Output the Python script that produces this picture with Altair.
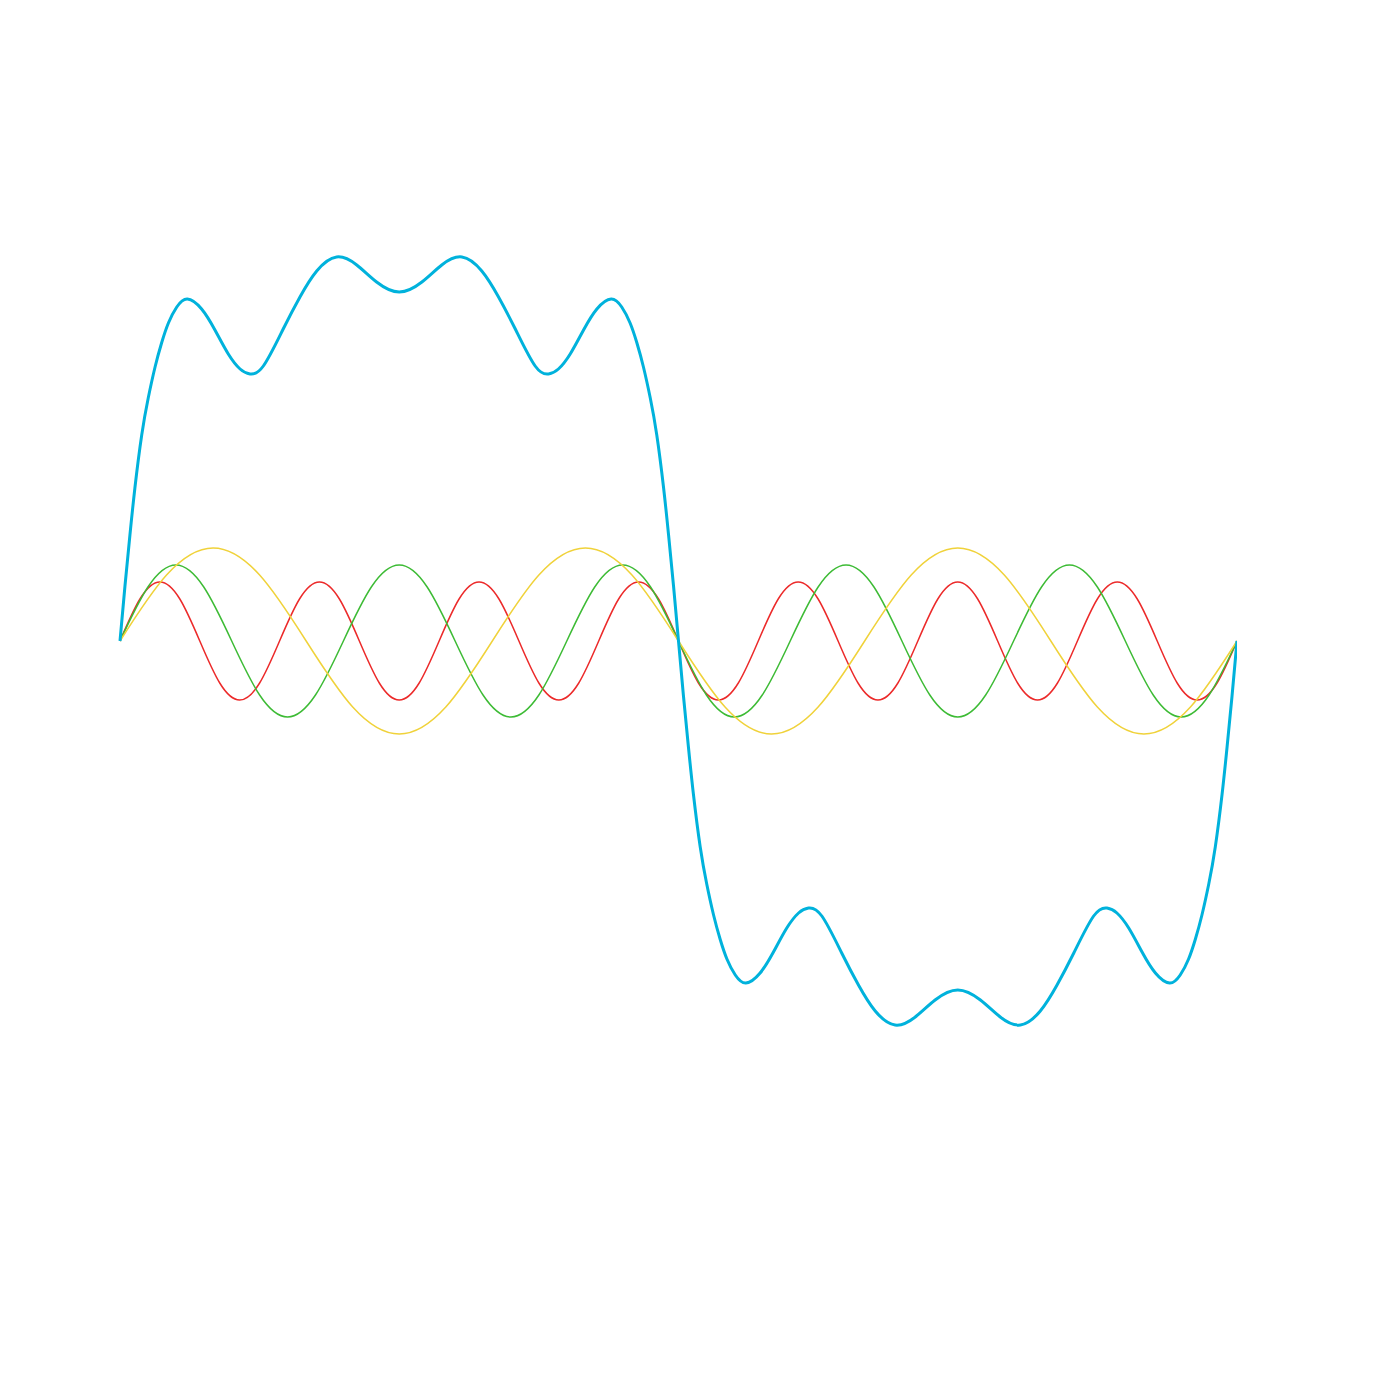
import altair as alt
import numpy as np
import pandas as pd

# Harmonic components (3rd, 5th, 7th) sampled every eighth of their period, in degrees of the fundamental
yellow_y = [0, 66, 93, 66, 0, -66, -93, -66,
            0, 66, 93, 66, 0, -66, -93, -66,
            0, 66, 93, 66, 0, -66, -93, -66, 0]
green_y = [0, 54, 76, 54, 0, -54, -76, -54,
           0, 54, 76, 54, 0, -54, -76, -54,
           0, 54, 76, 54, 0, -54, -76, -54,
           0, 54, 76, 54, 0, -54, -76, -54,
           0, 54, 76, 54, 0, -54, -76, -54, 0]
red_y = [0, 42, 59, 42, 0, -42, -59, -42,
         0, 42, 59, 42, 0, -42, -59, -42,
         0, 42, 59, 42, 0, -42, -59, -42,
         0, 42, 59, 42, 0, -42, -59, -42,
         0, 42, 59, 42, 0, -42, -59, -42,
         0, 42, 59, 42, 0, -42, -59, -42,
         0, 42, 59, 42, 0, -42, -59, -42, 0]

# Square-wave approximation (sum)
blue_x = [0, 1.6, 3.2, 4.8, 7.0, 9.1, 11.3, 13.4, 15.6, 18.3, 21.7, 26.3, 30.6, 34.9, 38.7, 41.9,
          46.2, 52.6, 58.0, 63.4, 69.8, 76.3, 82.7, 90,
          97.3, 103.7, 110.2, 116.6, 122.0, 127.4, 133.8, 138.1, 141.3, 145.1, 149.4, 153.7, 158.3,
          161.7, 164.4, 166.6, 168.7, 170.9, 173.0, 175.2, 176.8, 178.4, 180,
          181.6, 183.2, 184.8, 187.0, 189.1, 191.3, 193.4, 195.6, 198.3, 201.7, 206.3, 210.6, 214.9,
          218.7, 221.9, 226.2, 232.6, 238.0, 243.4, 249.8, 256.3, 262.7, 270,
          277.3, 283.7, 290.2, 296.6, 302.0, 307.4, 313.8, 318.1, 321.3, 325.1, 329.4, 333.7, 338.3,
          341.7, 344.4, 346.6, 348.7, 350.9, 353.0, 355.2, 356.8, 358.4, 360]
blue_y = [0, 55, 106, 153, 206, 243, 274, 298, 318, 334, 342, 332, 311, 287, 272, 267,
          275, 312, 344, 370, 384, 376, 359, 349,
          359, 376, 384, 370, 344, 312, 275, 267, 272, 287, 311, 332, 342,
          334, 318, 298, 274, 243, 206, 153, 106, 55, 0,
          -55, -106, -153, -206, -243, -274, -298, -318, -334, -342, -332, -311, -287,
          -272, -267, -275, -312, -344, -370, -384, -376, -359, -349,
          -359, -376, -384, -370, -344, -312, -275, -267, -272, -287, -311, -332, -342,
          -334, -318, -298, -274, -243, -206, -153, -106, -55, 0]

def frame(xs, ys):
    return pd.DataFrame({"x": xs, "y": ys})

red_df = frame(np.linspace(0, 360, len(red_y)), red_y)
green_df = frame(np.linspace(0, 360, len(green_y)), green_y)
yellow_df = frame(np.linspace(0, 360, len(yellow_y)), yellow_y)
blue_df = frame(blue_x, blue_y)

xs = alt.Scale(domain=[0, 360], nice=False, zero=False)
ys = alt.Scale(domain=[-450, 450], nice=False, zero=False)

def layer(df, color, width, interp):
    return alt.Chart(df).mark_line(color=color, strokeWidth=width, interpolate=interp).encode(
        x=alt.X("x:Q", scale=xs, axis=None),
        y=alt.Y("y:Q", scale=ys, axis=None),
    )

chart = alt.layer(
    layer(red_df, "#ec2a2a", 1.5, "natural"),
    layer(green_df, "#3dbb35", 1.5, "natural"),
    layer(yellow_df, "#f0d23a", 1.5, "natural"),
    layer(blue_df, "#00b2dc", 3, "natural"),
).properties(
    width=1117, height=900,
    autosize=alt.AutoSizeParams(type="none"),
    padding={"left": 112, "top": 183, "right": 0, "bottom": 0},
).configure_view(stroke=None)

chart.save("out.html", embed_options={"renderer": "svg", "actions": False})
